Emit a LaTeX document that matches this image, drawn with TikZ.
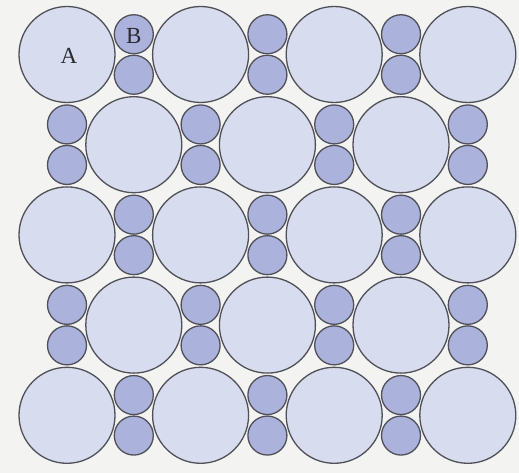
\documentclass[tikz,border=0pt]{standalone}
\usepackage{fontspec}
\setmainfont{Liberation Serif}
\definecolor{bgc}{HTML}{F3F3F1}
\definecolor{bigf}{HTML}{D7DCEE}
\definecolor{smallf}{HTML}{ABB2DC}
\definecolor{edgec}{HTML}{505058}
\definecolor{labelc}{HTML}{2A2A30}
\begin{document}
\begin{tikzpicture}[x=1pt,y=-1pt,
  bigc/.style={circle,draw=edgec,fill=bigf,line width=1.3pt,inner sep=0pt,minimum size=96pt},
  smallc/.style={circle,draw=edgec,fill=smallf,line width=1.3pt,inner sep=0pt,minimum size=39pt},
  lbl/.style={font=\fontsize{23}{23}\selectfont,text=labelc,inner sep=0pt}]
\fill[bgc] (0,0) rectangle (519,473);
\useasboundingbox (0,0) rectangle (519,473);
\foreach \j in {0,...,4}{
  \foreach \k in {0,...,6}{
    \pgfmathsetmacro\cx{67+66.8*\k}
    \pgfmathsetmacro\cy{54.5+90.2*\j}
    \pgfmathtruncatemacro\p{mod(\j+\k,2)}
    \ifnum\p=0
      \node[bigc] (c-\j-\k) at (\cx,\cy) {};
    \else
      \node[smallc] (c-\j-\k-t) at (\cx,\cy-20.25) {};
      \node[smallc] (c-\j-\k-b) at (\cx,\cy+20.25) {};
    \fi
  }
}
\node[lbl] (labA) at ([shift={(2,1)}]c-0-0) {A};
\node[lbl] (labB) at ([shift={(0,2)}]c-0-1-t) {B};
\end{tikzpicture}
\end{document}
